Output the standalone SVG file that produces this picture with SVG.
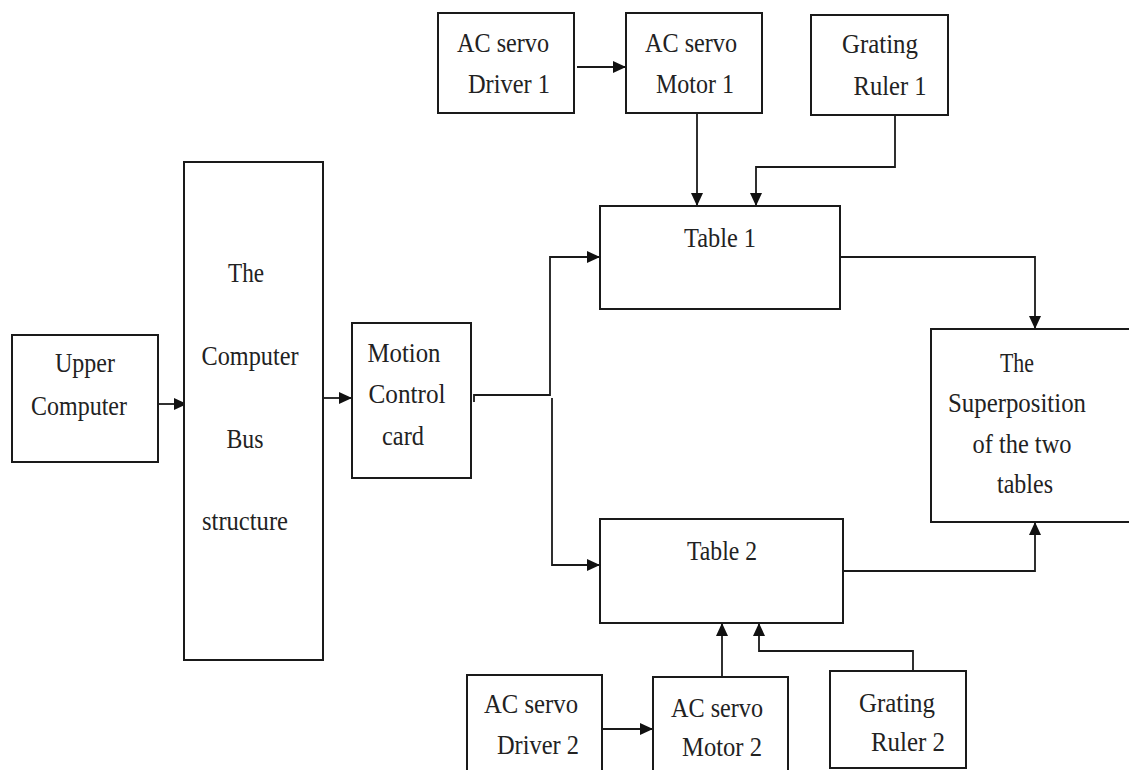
<svg xmlns="http://www.w3.org/2000/svg" width="1129" height="770" viewBox="0 0 1129 770">
<style>
.box{fill:#fff;stroke:#1a1a1a;stroke-width:2}
.ln{fill:none;stroke:#1a1a1a;stroke-width:1.8}
text{font-family:"Liberation Serif","Times New Roman",serif;font-size:27px;fill:#222;text-anchor:middle}
</style>
<defs>
<marker id="ah" markerUnits="userSpaceOnUse" markerWidth="14" markerHeight="13" refX="13" refY="6" orient="auto">
<path d="M0,0 L13,6 L0,12 z" fill="#111"/>
</marker>
</defs>
<rect width="1129" height="770" fill="#fff"/>
<g id="connectors">
<path class="ln" d="M158,404 H187" marker-end="url(#ah)"/>
<path class="ln" d="M323,398 H352" marker-end="url(#ah)"/>
<path class="ln" d="M474,402 V395 H550 V257 H600" marker-end="url(#ah)"/>
<path class="ln" d="M552,398 V565 H600" marker-end="url(#ah)"/>
<path class="ln" d="M577,67 H626" marker-end="url(#ah)"/>
<path class="ln" d="M697,113 V206" marker-end="url(#ah)"/>
<path class="ln" d="M895,115 V167 H756 V206" marker-end="url(#ah)"/>
<path class="ln" d="M840,257 H1035 V329" marker-end="url(#ah)"/>
<path class="ln" d="M843,571 H1035 V522" marker-end="url(#ah)"/>
<path class="ln" d="M602,729 H653" marker-end="url(#ah)"/>
<path class="ln" d="M722,677 V623" marker-end="url(#ah)"/>
<path class="ln" d="M913,671 V651 H759 V623" marker-end="url(#ah)"/>
</g>
<g id="upper-computer">
<rect class="box" x="12" y="335" width="146" height="127"/>
<text x="85" y="372" textLength="60" lengthAdjust="spacingAndGlyphs">Upper</text>
<text x="79" y="415" textLength="96" lengthAdjust="spacingAndGlyphs">Computer</text>
</g>
<g id="bus">
<rect class="box" x="184" y="162" width="139" height="498"/>
<text x="246" y="282" textLength="36" lengthAdjust="spacingAndGlyphs">The</text>
<text x="250" y="365" textLength="97" lengthAdjust="spacingAndGlyphs">Computer</text>
<text x="245" y="448" textLength="37" lengthAdjust="spacingAndGlyphs">Bus</text>
<text x="245" y="530" textLength="86" lengthAdjust="spacingAndGlyphs">structure</text>
</g>
<g id="motion-control">
<rect class="box" x="352" y="323" width="119" height="155"/>
<text x="404" y="362" textLength="73" lengthAdjust="spacingAndGlyphs">Motion</text>
<text x="407" y="403" textLength="77" lengthAdjust="spacingAndGlyphs">Control</text>
<text x="403" y="445" textLength="42" lengthAdjust="spacingAndGlyphs">card</text>
</g>
<g id="driver1">
<rect class="box" x="438" y="13" width="136" height="100"/>
<text x="503" y="52" textLength="92" lengthAdjust="spacingAndGlyphs">AC servo</text>
<text x="509" y="93" textLength="82" lengthAdjust="spacingAndGlyphs">Driver 1</text>
</g>
<g id="motor1">
<rect class="box" x="626" y="13" width="136" height="100"/>
<text x="691" y="52" textLength="92" lengthAdjust="spacingAndGlyphs">AC servo</text>
<text x="695" y="93" textLength="78" lengthAdjust="spacingAndGlyphs">Motor 1</text>
</g>
<g id="ruler1">
<rect class="box" x="811" y="15" width="137" height="100"/>
<text x="880" y="53" textLength="76" lengthAdjust="spacingAndGlyphs">Grating</text>
<text x="890" y="95" textLength="73" lengthAdjust="spacingAndGlyphs">Ruler 1</text>
</g>
<g id="table1">
<rect class="box" x="600" y="206" width="240" height="103"/>
<text x="720" y="247" textLength="72" lengthAdjust="spacingAndGlyphs">Table 1</text>
</g>
<g id="superposition">
<rect class="box" x="931" y="329" width="210" height="193"/>
<text x="1017" y="372" textLength="34" lengthAdjust="spacingAndGlyphs">The</text>
<text x="1017" y="412" textLength="138" lengthAdjust="spacingAndGlyphs">Superposition</text>
<text x="1022" y="453" textLength="99" lengthAdjust="spacingAndGlyphs">of the two</text>
<text x="1025" y="493" textLength="56" lengthAdjust="spacingAndGlyphs">tables</text>
</g>
<g id="table2">
<rect class="box" x="600" y="519" width="243" height="104"/>
<text x="722" y="560" textLength="70" lengthAdjust="spacingAndGlyphs">Table 2</text>
</g>
<g id="driver2">
<rect class="box" x="467" y="675" width="135" height="110"/>
<text x="531" y="713" textLength="94" lengthAdjust="spacingAndGlyphs">AC servo</text>
<text x="538" y="754" textLength="82" lengthAdjust="spacingAndGlyphs">Driver 2</text>
</g>
<g id="motor2">
<rect class="box" x="653" y="677" width="135" height="110"/>
<text x="717" y="717" textLength="92" lengthAdjust="spacingAndGlyphs">AC servo</text>
<text x="722" y="756" textLength="80" lengthAdjust="spacingAndGlyphs">Motor 2</text>
</g>
<g id="ruler2">
<rect class="box" x="830" y="671" width="136" height="97"/>
<text x="897" y="712" textLength="76" lengthAdjust="spacingAndGlyphs">Grating</text>
<text x="908" y="751" textLength="74" lengthAdjust="spacingAndGlyphs">Ruler 2</text>
</g>
</svg>
